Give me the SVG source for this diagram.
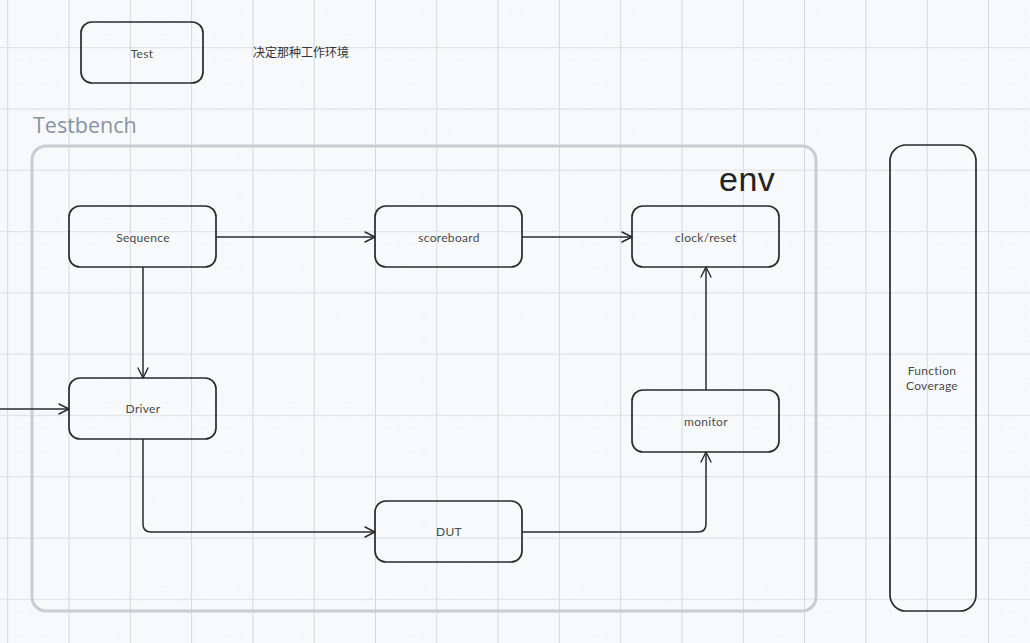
<svg xmlns="http://www.w3.org/2000/svg" width="1030" height="643" viewBox="0 0 1030 643">
<defs>
<pattern id="grid" patternUnits="userSpaceOnUse" x="7.2" y="47" width="61.3" height="61.3">
<g stroke="#e1e4e9" stroke-width="1" stroke-dasharray="1.2 11.06">
<line x1="12.26" y1="0" x2="12.26" y2="61.3"/>
<line x1="24.52" y1="0" x2="24.52" y2="61.3"/>
<line x1="36.78" y1="0" x2="36.78" y2="61.3"/>
<line x1="49.04" y1="0" x2="49.04" y2="61.3"/>
</g>
<line x1="0.5" y1="0" x2="0.5" y2="61.3" stroke="#d3d8e2" stroke-width="1"/>
<line x1="0" y1="0.5" x2="61.3" y2="0.5" stroke="#dfe2e8" stroke-width="1.6"/>
</pattern>
<marker id="arr" viewBox="0 0 12 12" refX="11" refY="6" markerWidth="12" markerHeight="12" markerUnits="userSpaceOnUse" orient="auto">
<path d="M1,1 L11,6 L1,11" fill="none" stroke="#2b2b2b" stroke-width="1.4" stroke-linecap="round" stroke-linejoin="round"/>
</marker>
</defs>
<style>
.box{fill:none;stroke:#2b2b2b;stroke-width:1.7}
.lbl{font-family:Lato,"Noto Sans",sans-serif;font-size:12px;fill:#4a4a4a;text-anchor:middle;letter-spacing:0.3px}
.con{fill:none;stroke:#2b2b2b;stroke-width:1.5;marker-end:url(#arr)}
</style>
<rect width="1030" height="643" fill="#f8f9fb"/>
<rect width="1030" height="643" fill="url(#grid)"/>

<g id="test">
<rect class="box" x="81" y="22" width="122" height="61" rx="11"/>
<text class="lbl" x="142" y="58">Test</text>
</g>
<g id="note">
<text x="253" y="57" font-family="'Noto Sans CJK SC',sans-serif" font-size="12" fill="#333">决定那种工作环境</text>
</g>

<g id="testbench">
<text x="33" y="133" font-family="'Open Sans',sans-serif" font-size="21.5" fill="#8793a4">Testbench</text>
<rect x="32" y="146" width="784" height="465" rx="14" fill="none" stroke="#c9cdd5" stroke-width="3"/>
<text x="719" y="191" font-family="'Liberation Sans',sans-serif" font-size="34" fill="#222" letter-spacing="0.5">env</text>
</g>

<g id="sequence">
<rect class="box" x="69" y="206" width="147" height="61" rx="11"/>
<text class="lbl" x="143" y="242">Sequence</text>
</g>
<g id="scoreboard">
<rect class="box" x="375" y="206" width="147" height="61" rx="11"/>
<text class="lbl" x="449" y="242">scoreboard</text>
</g>
<g id="clockreset">
<rect class="box" x="632" y="206" width="147" height="61" rx="11"/>
<text class="lbl" x="706" y="242">clock/reset</text>
</g>
<g id="driver">
<rect class="box" x="69" y="378" width="147" height="61" rx="11"/>
<text class="lbl" x="143" y="413">Driver</text>
</g>
<g id="monitor">
<rect class="box" x="632" y="390" width="147" height="62" rx="11"/>
<text class="lbl" x="706" y="426">monitor</text>
</g>
<g id="dut">
<rect class="box" x="375" y="501" width="147" height="61" rx="11"/>
<text class="lbl" x="449" y="536">DUT</text>
</g>
<g id="coverage">
<rect class="box" x="890" y="145" width="86" height="466" rx="16"/>
<text class="lbl" x="932" y="375">Function</text>
<text class="lbl" x="932" y="390">Coverage</text>
</g>

<g id="connectors">
<path class="con" d="M216,237 L375,237"/>
<path class="con" d="M522,237 L632,237"/>
<path class="con" d="M143,267 L143,378"/>
<path class="con" d="M0,409 L69,409"/>
<path class="con" d="M143,439 L143,524 Q143,532 151,532 L375,532"/>
<path class="con" d="M522,532 L698,532 Q706,532 706,524 L706,452"/>
<path class="con" d="M706,390 L706,267"/>
</g>
</svg>
